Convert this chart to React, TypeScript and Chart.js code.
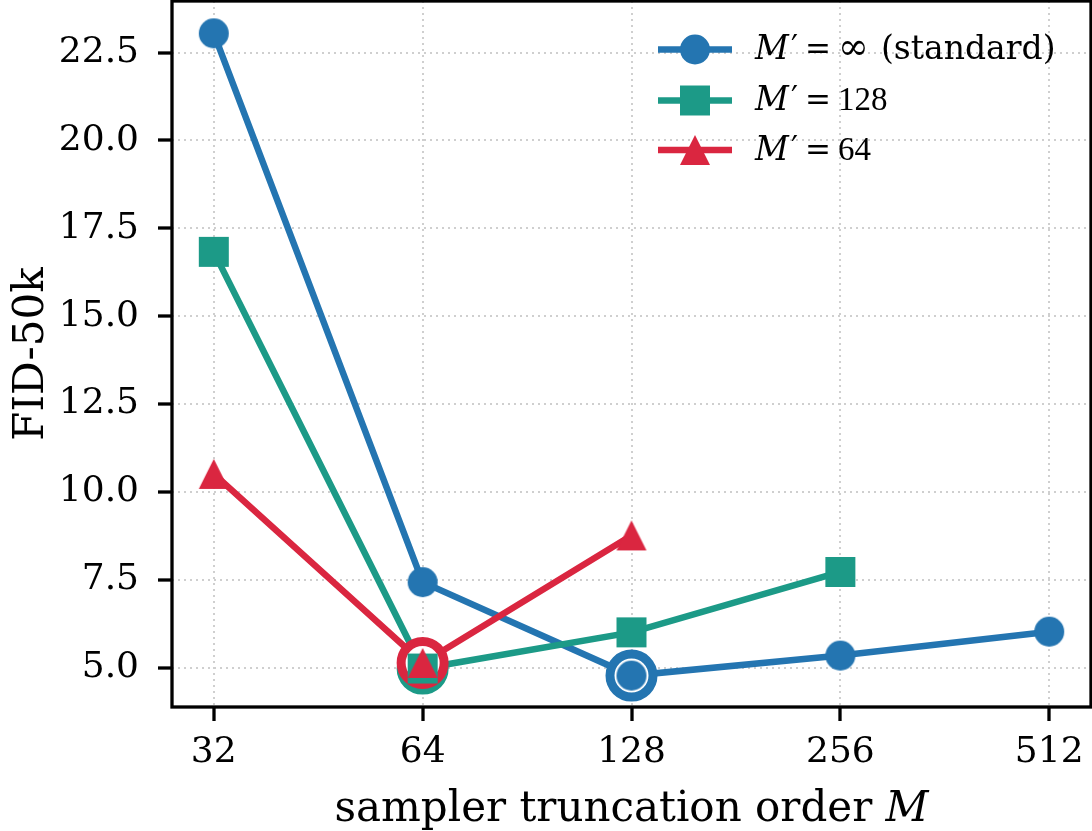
import { useEffect, useRef } from 'react';
import { Chart, registerables } from 'chart.js';

Chart.register(...registerables);

// Sampler truncation order M (plotted on a log2 axis)
const orders = [32, 64, 128, 256, 512];
// FID-50k for each training truncation M′
const fidStandard = [23.05, 7.43, 4.77, 5.34, 6.02];
const fidM128 = [16.83, 4.97, 6.0, 7.72];
const fidM64 = [10.51, 5.13, 8.76];
// Best sampler order per series, circled on the plot
const bestOrder = [128, 64, 64];
// Legend text pieces: M′ = <value><suffix>
const seriesValues = ['∞', '128', '64'];
const seriesSuffix = ['(standard)', '', ''];
const yTicks = [5.0, 7.5, 10.0, 12.5, 15.0, 17.5, 20.0, 22.5];

const BLUE = '#2475b1';
const TEAL = '#1c9a87';
const RED = '#da2640';
const GRID = '#cfcfcf';

type Kind = 'circle' | 'square' | 'triangle';
const kinds: Kind[] = ['circle', 'square', 'triangle'];
const colors = [BLUE, TEAL, RED];
const seriesData = [fidStandard, fidM128, fidM64];

function traceMarker(ctx: CanvasRenderingContext2D, kind: Kind, x: number, y: number, s: number) {
  ctx.beginPath();
  if (kind === 'circle') {
    ctx.arc(x, y, s, 0, Math.PI * 2);
  } else if (kind === 'square') {
    ctx.rect(x - s, y - s, 2 * s, 2 * s);
  } else {
    ctx.moveTo(x, y - s);
    ctx.lineTo(x + s, y + s);
    ctx.lineTo(x - s, y + s);
    ctx.closePath();
  }
}

function markerImage(kind: Kind, color: string, s: number) {
  const size = Math.ceil(2 * s + 4);
  const c = document.createElement('canvas');
  c.width = size;
  c.height = size;
  const ctx = c.getContext('2d')!;
  ctx.fillStyle = color;
  traceMarker(ctx, kind, size / 2, size / 2, s);
  ctx.fill();
  return c;
}

const MARK = 15;
const LINE_W = 6.5;
const TICK_FONT = { family: 'DejaVu Serif', size: 36 };

const overlay = {
  id: 'overlay',
  afterDraw(chart: any) {
    const { ctx, chartArea: a } = chart;
    ctx.save();
    ctx.setLineDash([]);

    // full box around the axes
    ctx.strokeStyle = '#000';
    ctx.lineWidth = 3.3;
    ctx.strokeRect(a.left, a.top, a.right - a.left, a.bottom - a.top);

    // legend (line + marker + math label)
    const rowY = [49.5, 100.5, 150];
    for (let i = 0; i < 3; i++) {
      const y = rowY[i];
      ctx.strokeStyle = colors[i];
      ctx.lineWidth = LINE_W;
      ctx.beginPath();
      ctx.moveTo(658, y);
      ctx.lineTo(732, y);
      ctx.stroke();
      ctx.fillStyle = colors[i];
      traceMarker(ctx, kinds[i], 695, y, MARK);
      ctx.fill();

      const base = y + 9.8;
      ctx.fillStyle = '#000';
      ctx.textAlign = 'left';
      ctx.textBaseline = 'alphabetic';
      ctx.font = 'italic 33px "DejaVu Serif"';
      ctx.fillText('M', 755, base);
      ctx.font = '31px "DejaVu Serif"';
      ctx.fillText('′', 791, base - 2);
      ctx.fillText('=', 805, base);
      if (seriesValues[i] === '∞') {
        ctx.font = '37px "DejaVu Serif"';
      } else {
        ctx.font = '33px "Liberation Serif"';
      }
      ctx.fillText(seriesValues[i], 838, base);
      if (seriesSuffix[i]) {
        ctx.font = '33px "DejaVu Serif"';
        ctx.fillText(seriesSuffix[i], 881, base);
      }
    }

    // x axis title with italic M
    const cx = (a.left + a.right) / 2;
    ctx.font = '42px "DejaVu Serif"';
    const t1 = 'sampler truncation order ';
    const w1 = ctx.measureText(t1).width;
    ctx.font = 'italic 42px "DejaVu Serif"';
    const w2 = ctx.measureText('M').width;
    const x0 = cx - (w1 + w2) / 2;
    ctx.font = '42px "DejaVu Serif"';
    ctx.fillText(t1, x0, 821);
    ctx.font = 'italic 42px "DejaVu Serif"';
    ctx.fillText('M', x0 + w1, 821);

    // y axis title
    ctx.save();
    ctx.translate(43, (a.top + a.bottom) / 2);
    ctx.rotate(-Math.PI / 2);
    ctx.textAlign = 'center';
    ctx.font = '42px "DejaVu Serif"';
    ctx.fillText('FID-50k', 0, 0);
    ctx.restore();

    ctx.restore();
  },
};

export default function App() {
  const ref = useRef<HTMLCanvasElement>(null);

  useEffect(() => {
    const pts = (vals: number[]) => vals.map((v, i) => ({ x: orders[i], y: v }));
    const bestPoint = (i: number) => {
      const idx = orders.indexOf(bestOrder[i]);
      return [{ x: bestOrder[i], y: seriesData[i][idx] }];
    };

    const lineSets = [0, 1, 2].map((i) => ({
      label: 'M′ = ' + seriesValues[i],
      data: pts(seriesData[i]),
      borderColor: colors[i],
      backgroundColor: colors[i],
      borderWidth: LINE_W,
      pointStyle: markerImage(kinds[i], colors[i], MARK),
      pointRadius: MARK,
      order: 10 - i,
      clip: false as any,
    }));

    const ringSets = [0, 1, 2].map((i) => ({
      label: 'best ' + seriesValues[i],
      data: bestPoint(i),
      showLine: false,
      pointStyle: 'circle',
      pointRadius: 21.5,
      pointBorderWidth: 9,
      pointBorderColor: colors[i],
      pointBackgroundColor: '#ffffff',
      order: 7 - i,
      clip: false as any,
    }));

    const topSets = [0, 1, 2].map((i) => ({
      label: 'best marker ' + seriesValues[i],
      data: bestPoint(i),
      showLine: false,
      pointStyle: markerImage(kinds[i], colors[i], MARK),
      pointRadius: MARK,
      order: 3 - i,
      clip: false as any,
    }));

    const chart = new Chart(ref.current!, {
      type: 'line',
      data: { datasets: [...lineSets, ...ringSets, ...topSets] as any },
      options: {
        responsive: false,
        animation: false,
        devicePixelRatio: 1,
        events: [],
        layout: { autoPadding: false, padding: { top: 1, right: 1, left: 0, bottom: 0 } } as any,
        plugins: {
          legend: { display: false },
          tooltip: { enabled: false },
        },
        scales: {
          x: {
            type: 'logarithmic',
            min: Math.pow(2, 4.8),
            max: Math.pow(2, 9.2),
            afterBuildTicks: (s: any) => {
              s.ticks = orders.map((v) => ({ value: v }));
            },
            afterFit: (s: any) => {
              s.height = 124;
              s.paddingLeft = 0;
              s.paddingRight = 0;
            },
            ticks: {
              callback: (v: any) => String(v),
              font: TICK_FONT,
              color: '#000',
              padding: 10,
              maxRotation: 0,
              autoSkip: false,
            },
            grid: {
              color: GRID,
              lineWidth: 2,
              tickLength: 14,
              tickWidth: 3.3,
              tickColor: '#000',
            },
            border: { display: false, dash: [2, 4] },
          },
          y: {
            type: 'linear',
            min: 3.876,
            max: 23.97,
            afterBuildTicks: (s: any) => {
              s.ticks = yTicks.map((v) => ({ value: v }));
            },
            afterFit: (s: any) => {
              s.width = 172;
              s.paddingTop = 0;
              s.paddingBottom = 0;
            },
            ticks: {
              callback: (v: any) => Number(v).toFixed(1),
              font: TICK_FONT,
              color: '#000',
              padding: 19,
            },
            grid: {
              color: GRID,
              lineWidth: 2,
              tickLength: 14,
              tickWidth: 3.3,
              tickColor: '#000',
            },
            border: { display: false, dash: [2, 4] },
          },
        },
      },
      plugins: [overlay],
    });
    return () => chart.destroy();
  }, []);

  return (
    <div style={{ position: 'absolute', left: 0, top: 0, width: 1092, height: 831, background: '#fff' }}>
      <canvas ref={ref} width={1092} height={831} style={{ display: 'block' }} />
    </div>
  );
}
